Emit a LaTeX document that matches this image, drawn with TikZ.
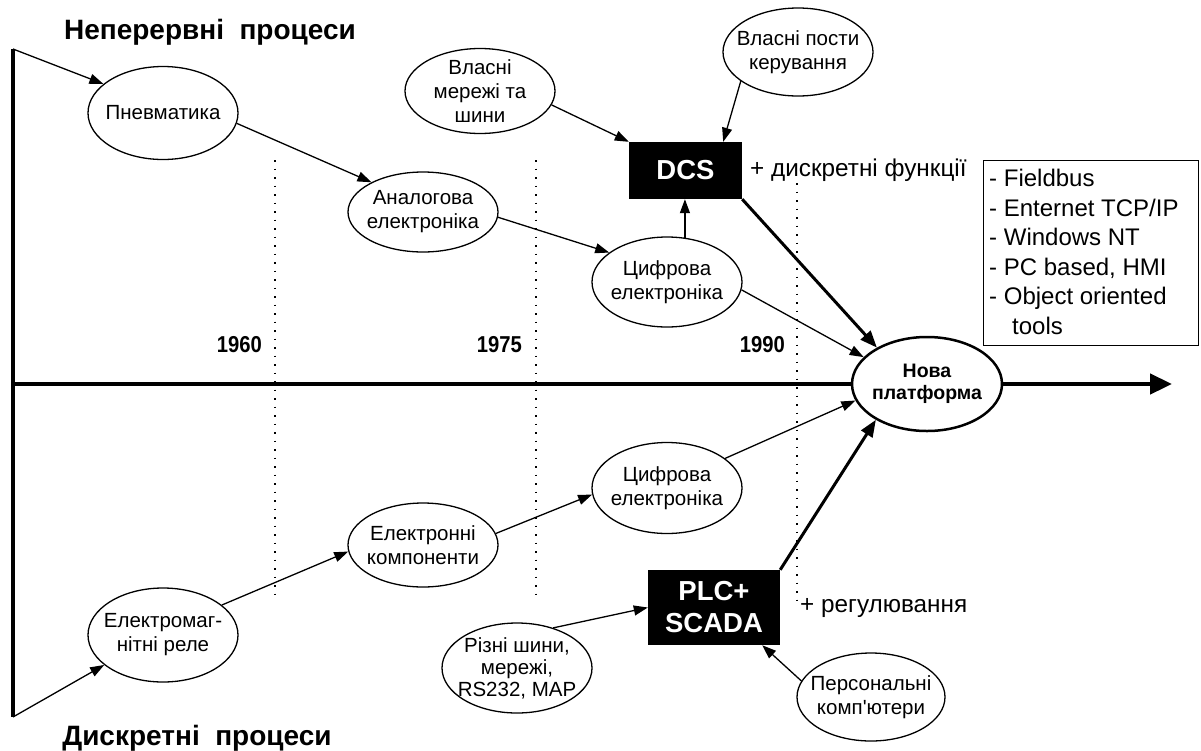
\documentclass[tikz,border=0pt]{standalone}
\usepackage{fontspec}
\setmainfont{Liberation Sans}
\usetikzlibrary{arrows.meta,shapes.geometric}
\begin{document}
\begin{tikzpicture}[x=1pt,y=-1pt,
  ell/.style={draw,ellipse,fill=white,line width=1.3pt,inner sep=0pt,minimum width=150pt,minimum height=90pt},
  lbl/.style={align=center,font=\fontsize{20.5}{24}\selectfont,inner sep=0pt},
  blk/.style={fill=black,text=white,font=\bfseries\fontsize{27.5}{32}\selectfont,align=center,inner sep=0pt},
  thinarr/.style={line width=1.3pt,-{Triangle[length=14pt,width=10pt]}},
  thickarr/.style={line width=3pt,-{Triangle[length=17pt,width=13pt]}},
  dots/.style={line width=1.8pt,dash pattern=on 1.8pt off 6.7pt},
  year/.style={font=\bfseries\fontsize{23}{26}\selectfont,anchor=base east,inner sep=0pt,xscale=0.88},
  ttl/.style={font=\bfseries\fontsize{28}{32}\selectfont,anchor=base,inner sep=0pt},
  note/.style={font=\fontsize{24.3}{28}\selectfont,anchor=base west,inner sep=0pt}
]
\useasboundingbox (0,0) rectangle (1201,750);

% dotted time separators
\draw[dots] (275,160) -- (275,600);
\draw[dots] (536,160) -- (536,600);
\draw[dots] (797,183) -- (797,600);

% axes
\coordinate (vt) at (13,49);
\coordinate (vb) at (13,717);
\coordinate (ax0) at (11,384);
\coordinate (axe) at (1172,384);
\draw[line width=4.5pt] (vt) -- (vb);
\draw[line width=4.5pt,-{Triangle[length=22pt,width=20pt]}] (ax0) -- (axe);

% titles
\node[ttl] (t1) at (210,39) {Неперервні\ \ процеси};
\node[ttl] (t2) at (197,745) {Дискретні\ \ процеси};

% years
\node[year] (y1) at (262,352) {1960};
\node[year] (y2) at (522,352) {1975};
\node[year] (y3) at (785,352) {1990};

% upper branch
\node[ell,minimum height=93pt] (pn) at (163,113) {};
\node[lbl] at (pn) {Пневматика};
\node[ell,minimum height=80pt] (an) at (423,212) {};
\node[lbl] at (an) {Аналогова\\електроніка};
\node[ell] (ts) at (667,282) {};
\node[lbl] at (ts) {Цифрова\\електроніка};
\node[ell,minimum height=85pt] (vm) at (480,91) {};
\node[lbl] at (vm) {Власні\\мережі та\\шини};
\node[ell,minimum height=88pt] (vp) at (798,52) {};
\node[lbl] at (vp) {Власні пости\\керування};
\node[blk,minimum width=113pt,minimum height=57pt] (dcs) at (685.5,170.5) {DCS};
\node[note] (nd) at (750,176) {+ дискретні функції};

% new platform
\node[ell,line width=2.5pt,minimum height=94pt] (np) at (927,384) {};
\node[lbl,font=\bfseries\fontsize{19.5}{22}\selectfont] at (np) {Нова\\платформа};

% list box
\node[draw,line width=1.3pt,minimum width=215pt,minimum height=185pt,anchor=north west,inner sep=0pt] (lst) at (983,160) {};
\node[anchor=north west,align=left,font=\fontsize{24}{29.5}\selectfont,inner sep=0pt] (lt) at (989,169) {- Fieldbus\\- Enternet TCP/IP\\- Windows NT\\- PC based, HMI\\- Object oriented\\\hspace*{23pt}tools};

% lower branch
\node[ell,minimum height=94pt] (em) at (163,635) {};
\node[lbl] at (em) {Електромаг-\\нітні реле};
\node[ell,minimum height=84pt] (ek) at (423,545) {};
\node[lbl] at (ek) {Електронні\\компоненти};
\node[ell,minimum height=91pt] (tb) at (667,488) {};
\node[lbl] at (tb) {Цифрова\\електроніка};
\node[blk,minimum width=132pt,minimum height=75pt] (plc) at (714,607.5) {PLC+\\SCADA};
\node[note] (nr) at (800,612) {+ регулювання};
\node[ell] (rs) at (517,668) {};
\node[lbl,font=\fontsize{20.5}{22}\selectfont] at (rs) {Різні шини,\\мережі,\\RS232, MAP};
\node[ell,minimum width=148pt,minimum height=88pt] (pk) at (871,697) {};
\node[lbl] at (pk) {Персональні\\комп\textquotesingle ютери};

% connectors upper
\draw[thinarr] (vt) -- (pn.154);
\draw[thinarr] (pn.-8) -- (an.150);
\draw[thinarr] (an.-4) -- (ts.153);
\draw[thinarr] (ts.68) -- (ts.68 |- dcs.south);
\draw[thinarr] (vm.-11) -- (dcs.north west);
\draw[thinarr] (vp.207) -- ([xshift=-19pt]dcs.north east);
\draw[thickarr] (dcs.south east) -- (np.144);
\draw[thinarr] (ts.-6) -- (np.157);

% connectors lower
\draw[thinarr] (vb) -- (em.207);
\draw[thinarr] (em.27) -- (ek.185);
\draw[thinarr] (ek.9) -- (tb.185);
\draw[thinarr] (tb.27) -- (np.193);
\draw[thickarr] (plc.north east) -- (np.215);
\draw[thinarr] (rs.48) -- (plc.west);
\draw[thinarr] (pk.167) -- ([xshift=-18pt]plc.south east);
\end{tikzpicture}
\end{document}
